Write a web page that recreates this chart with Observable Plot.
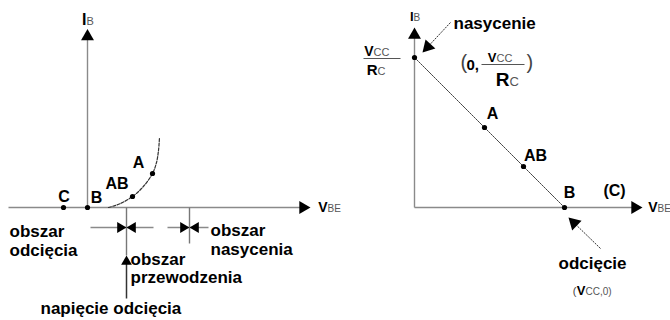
<!DOCTYPE html>
<html><head><meta charset="utf-8">
<script src="https://cdn.jsdelivr.net/npm/d3@7"></script>
<script src="https://cdn.jsdelivr.net/npm/@observablehq/plot@0.6"></script>
<style>
html,body{margin:0;padding:0;background:#fff;}
#fig{display:flex;width:670px;height:320px;overflow:hidden;}
#fig svg{flex:none;overflow:visible;}
</style></head><body><div id="fig"></div>
<script>
// ===== Left chart: input characteristic IB(VBE) =====
const leftCurveV = [2.1, 3.3, 4.5, 5.5, 6.5, 6.9, 7.1, 7.2];
const leftCurveI = [0, 0.4, 1.1, 2.0, 3.4, 4.5, 5.7, 7.0];
const leftPointNames = ["C", "B", "AB", "A"];
const leftPointV = [-2.4, 0, 4.5, 6.5];
const leftPointI = [0, 0, 1.1, 3.4];
const leftPointLabelV = [-2.35, 0.9, 2.95, 5.1];
const leftPointLabelI = [0.6, 0.5, 1.9, 4.0];
const leftAxisFrom = [[-7.9, 0], [0, 0]];
const leftAxisTip = [[22.3, 0], [0, 17.85]];
const leftBoundaryV = [3.9, 10.2];
const leftBoundaryEnd = [-4.8, -3.6];
const leftRegionArrowI = -2.0;
const leftRegionFrom = [0.3, 8.0];
const leftRegionTo = [6.6, 12.1];
const leftThresholdArrow = [[3.9, -9.1], [3.9, -4.8]];
const leftTexts = ["obszar", "odcięcia", "obszar", "przewodzenia", "obszar", "nasycenia", "napięcie odcięcia"];
const leftTextV = [-7.8, -7.8, 4.3, 4.3, 12.3, 12.3, -4.7];
const leftTextI = [-2.9, -4.8, -5.7, -7.5, -2.8, -4.7, -10.6];
const leftSymbols = [
  {id: "IBL", main: "I", sub: "B", x: -0.1, y: 18.3},
  {id: "VBEL", main: "V", sub: "BE", x: 24.0, y: -0.4}
];

// ===== Right chart: load line =====
const loadNames = ["nasycenie", "A", "AB", "B"];
const loadV = [0, 7.0, 10.9, 15.0];
const loadI = [15.0, 8.0, 4.1, 0];
const rightPointLabels = ["A", "AB", "B", "(C)"];
const rightPointLabelV = [7.8, 12.1, 15.5, 20.0];
const rightPointLabelI = [8.9, 4.7, 1.0, 1.2];
const rightAxisFrom = [[0, 0], [0, 0]];
const rightAxisTip = [[22.8, 0], [0, 18.0]];
const rightNotes = ["nasycenie", "odcięcie"];
const rightNoteV = [3.9, 14.4];
const rightNoteI = [17.9, -6.1];
const rightNoteArrowFrom = [[3.6, 18.5], [18.6, -4.1]];
const rightNoteArrowTip = [[0.8, 15.5], [15.4, -1.0]];
const rightSymbols = [
  {id: "IBR", main: "I", sub: "B", x: -0.1, y: 18.7},
  {id: "VBER", main: "V", sub: "BE", x: 24.3, y: -0.4},
  {id: "VccL", main: "V", sub: "CC", x: -4.1, y: 15.2},
  {id: "RcL", main: "R", sub: "C", x: -3.7, y: 13.3},
  {id: "VccP", main: "V", sub: "CC", x: 8.2, y: 14.6},
  {id: "RcP", main: "R", sub: "C", x: 9.5, y: 12.2},
  {id: "VccCut", main: "V", sub: "CC,0)", x: 17.1, y: -8.7}
];
const rightFractionBars = [[-5.1, -1.4, 14.9], [6.7, 11.0, 14.3]];
const rightPlain = [
  {id: "paren", text: "(", x: 4.6, y: 13.9},
  {id: "paren", text: ")", x: 11.2, y: 13.9},
  {id: "parenSmall", text: "(", x: 16.2, y: -8.7}
];
const rightBold = [{text: "0,", x: 5.2, y: 13.8}];

// ===== styles (kept separate from data) =====
const font = "Liberation Sans, Arial, Helvetica, sans-serif";
const symSizes = {
  IBL: [16, 11], VBEL: [14, 10], IBR: [13, 10], VBER: [14, 10],
  VccL: [14, 11], RcL: [15, 11], VccP: [13, 11], RcP: [19, 13], VccCut: [13, 10]
};
const plainSizes = {paren: 20, parenSmall: 11};
const PX = 10; // pixels per data unit on both scales
const SQ3 = Math.sqrt(3);

function head(from, tip, r) {
  const dx = tip[0] - from[0], dy = tip[1] - from[1], L = Math.hypot(dx, dy);
  const h = Math.sqrt(Math.PI * r * r / (3 * SQ3));
  const back = 2 * h / PX;
  return {x: tip[0] - dx / L * back, y: tip[1] - dy / L * back,
          rotate: Math.atan2(dx, dy) * 180 / Math.PI};
}
function arrows(froms, tips, r) {
  return froms.map((f, i) => {
    const hd = head(f, tips[i], r);
    return {x1: f[0], y1: f[1], x2: hd.x, y2: hd.y, hx: hd.x, hy: hd.y, rotate: hd.rotate};
  });
}
function symbolMarks(syms) {
  return [
    Plot.text(syms, {x: "x", y: "y", text: "main", textAnchor: "end", lineAnchor: "bottom",
      fontFamily: font, fontWeight: "bold", fontSize: d => symSizes[d.id][0], fill: "#000"}),
    Plot.text(syms, {x: "x", y: "y", text: "sub", textAnchor: "start", lineAnchor: "bottom",
      fontFamily: font, fontWeight: "normal", fontSize: d => symSizes[d.id][1], fill: "#555"})
  ];
}
const base = {height: 320, marginTop: 0, marginRight: 0, marginBottom: 0, marginLeft: 0,
  style: {overflow: "visible", background: "transparent"}};

// ----- left -----
const leftCurve = leftCurveV.map((v, i) => ({v, i: leftCurveI[i]}));
const leftPoints = leftPointNames.map((n, k) => ({n, v: leftPointV[k], i: leftPointI[k]}));
const leftPointLabels = leftPointNames.map((n, k) => ({n, v: leftPointLabelV[k], i: leftPointLabelI[k]}));
const leftAxes = arrows(leftAxisFrom, leftAxisTip, 4.8);
const leftBoundaries = leftBoundaryV.map((v, k) => ({v, y1: 0, y2: leftBoundaryEnd[k]}));
const leftRegionLines = leftRegionFrom.map((f, k) => ({x1: f, x2: leftRegionTo[k], y: leftRegionArrowI}));
const leftRegionHeads = leftBoundaryV.flatMap((b, k) => [
  head([leftRegionFrom[k], leftRegionArrowI], [b, leftRegionArrowI], 4),
  head([leftRegionTo[k], leftRegionArrowI], [b, leftRegionArrowI], 4)
]);
const leftThreshold = arrows([leftThresholdArrow[0]], [leftThresholdArrow[1]], 4);
const leftTextRows = leftTexts.map((t, k) => ({t, v: leftTextV[k], i: leftTextI[k]}));

const left = Plot.plot({...base, width: 340,
  x: {domain: [-8.7, 25.3], axis: null}, y: {domain: [-11.3, 20.7], axis: null},
  marks: [
    Plot.link(leftAxes, {x1: "x1", y1: "y1", x2: "x2", y2: "y2", stroke: "#8a8a8a", strokeWidth: 1.4}),
    Plot.dot(leftAxes, {x: "hx", y: "hy", rotate: "rotate", symbol: "triangle", r: 4.8, fill: "#000", stroke: "none"}),
    Plot.link(leftBoundaries, {x1: "v", x2: "v", y1: "y1", y2: "y2", stroke: "#777", strokeWidth: 1.4}),
    Plot.link(leftRegionLines, {x1: "x1", x2: "x2", y1: "y", y2: "y", stroke: "#8a8a8a", strokeWidth: 1.3}),
    Plot.dot(leftRegionHeads, {x: "x", y: "y", rotate: "rotate", symbol: "triangle", r: 4, fill: "#000", stroke: "none"}),
    Plot.link(leftThreshold, {x1: "x1", y1: "y1", x2: "x2", y2: "y2", stroke: "#333", strokeWidth: 1.5}),
    Plot.dot(leftThreshold, {x: "hx", y: "hy", rotate: "rotate", symbol: "triangle", r: 4, fill: "#000", stroke: "none"}),
    Plot.line(leftCurve, {x: "v", y: "i", curve: "catmull-rom", stroke: "#333", strokeWidth: 1.2, strokeDasharray: "3,1.5"}),
    Plot.dot(leftPoints, {x: "v", y: "i", r: 2.6, fill: "#000", stroke: "none"}),
    Plot.text(leftPointLabels, {x: "v", y: "i", text: "n", textAnchor: "middle", lineAnchor: "bottom",
      fontFamily: font, fontWeight: "bold", fontSize: 16, fill: "#000"}),
    Plot.text(leftTextRows, {x: "v", y: "i", text: "t", textAnchor: "start", lineAnchor: "bottom",
      fontFamily: font, fontWeight: "bold", fontSize: 17, fill: "#000"}),
    ...symbolMarks(leftSymbols)
  ]});

// ----- right -----
const loadLine = loadNames.map((n, k) => ({n, v: loadV[k], i: loadI[k]}));
const rightLabels = rightPointLabels.map((n, k) => ({n, v: rightPointLabelV[k], i: rightPointLabelI[k]}));
const rightAxes = arrows(rightAxisFrom, rightAxisTip, 4.8);
const rightNoteArrows = arrows(rightNoteArrowFrom, rightNoteArrowTip, 5);
const rightNoteRows = rightNotes.map((t, k) => ({t, v: rightNoteV[k], i: rightNoteI[k]}));
const bars = rightFractionBars.map(([x1, x2, y]) => ({x1, x2, y}));

const right = Plot.plot({...base, width: 330,
  x: {domain: [-7.4, 25.6], axis: null}, y: {domain: [-11.3, 20.7], axis: null},
  marks: [
    Plot.link(rightAxes, {x1: "x1", y1: "y1", x2: "x2", y2: "y2", stroke: "#8a8a8a", strokeWidth: 1.4}),
    Plot.dot(rightAxes, {x: "hx", y: "hy", rotate: "rotate", symbol: "triangle", r: 4.8, fill: "#000", stroke: "none"}),
    Plot.line(loadLine, {x: "v", y: "i", stroke: "#444", strokeWidth: 1, strokeDasharray: "2,1"}),
    Plot.dot(loadLine, {x: "v", y: "i", r: 2.6, fill: "#000", stroke: "none"}),
    Plot.link(rightNoteArrows, {x1: "x1", y1: "y1", x2: "x2", y2: "y2", stroke: "#333", strokeWidth: 1, strokeDasharray: "2,1"}),
    Plot.dot(rightNoteArrows, {x: "hx", y: "hy", rotate: "rotate", symbol: "triangle", r: 5, fill: "#000", stroke: "none"}),
    Plot.link(bars, {x1: "x1", x2: "x2", y1: "y", y2: "y", stroke: "#555", strokeWidth: 1.2}),
    Plot.text(rightLabels, {x: "v", y: "i", text: "n", textAnchor: "middle", lineAnchor: "bottom",
      fontFamily: font, fontWeight: "bold", fontSize: 16, fill: "#000"}),
    Plot.text(rightNoteRows, {x: "v", y: "i", text: "t", textAnchor: "start", lineAnchor: "bottom",
      fontFamily: font, fontWeight: "bold", fontSize: 17, fill: "#000"}),
    Plot.text(rightBold, {x: "x", y: "y", text: "text", textAnchor: "start", lineAnchor: "bottom",
      fontFamily: font, fontWeight: "bold", fontSize: 15, fill: "#000"}),
    Plot.text(rightPlain.filter(d => d.id === "paren"), {x: "x", y: "y", text: "text", textAnchor: "start", lineAnchor: "bottom",
      fontFamily: font, fontWeight: "normal", fontSize: d => plainSizes[d.id], fill: "#444"}),
    Plot.text(rightPlain.filter(d => d.id === "parenSmall"), {x: "x", y: "y", text: "text", textAnchor: "end", lineAnchor: "bottom",
      fontFamily: font, fontWeight: "normal", fontSize: d => plainSizes[d.id], fill: "#444"}),
    ...symbolMarks(rightSymbols)
  ]});

const fig = document.getElementById("fig");
fig.append(left, right);
</script></body></html>
